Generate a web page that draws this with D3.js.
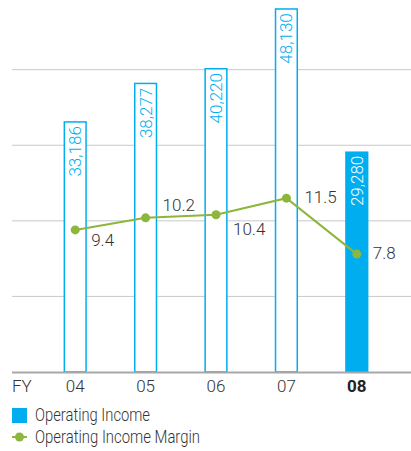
<!DOCTYPE html>
<html>
<head>
<meta charset="utf-8">
<script src="https://cdn.jsdelivr.net/npm/d3@7"></script>
<style>
html,body{margin:0;padding:0;background:#fff;}
svg{display:block;font-family:Roboto,"Open Sans",sans-serif;font-weight:300;}
</style>
</head>
<body>
<svg id="c" width="411" height="451"></svg>
<script>
const years = ["04","05","06","07","08"];
const income = [33186, 38277, 40220, 48130, 29280];
const incomeLabels = ["33,186","38,277","40,220","48,130","29,280"];
const margin = [9.4, 10.2, 10.4, 11.5, 7.8];
const marginLabels = ["9.4","10.2","10.4","11.5","7.8"];
const gridTicks = [10000, 20000, 30000, 40000];
const legendItems = ["Operating Income","Operating Income Margin"];

const BLUE = "#00aeef", GREEN = "#8cb63c", TEXT = "#333";
const svg = d3.select("#c");
const baseY = 372;
const FS = 17;

const x = d3.scaleBand().domain(years).range([40, 392]).paddingInner(0.67).paddingOuter(0.335);
const y = d3.scaleLinear().domain([0, 50000]).range([baseY, baseY - 377.9]);
const y2 = d3.scaleLinear().domain([0, 25]).range([baseY, baseY - 377.9]);

// grid
svg.append("g").selectAll("line").data(gridTicks).join("line")
  .attr("x1", 12).attr("x2", 411)
  .attr("y1", d => y(d)).attr("y2", d => y(d))
  .attr("stroke", "#c8c8c8").attr("stroke-width", 1);

// bars
const last = years.length - 1;
svg.append("g").selectAll("rect").data(income).join("rect")
  .attr("x", (d,i) => x(years[i]) + (i === last ? 0 : 0.75))
  .attr("width", (d,i) => x.bandwidth() - (i === last ? 0 : 1.5))
  .attr("y", d => y(d) + 0.75)
  .attr("height", d => baseY - y(d) - 0.75)
  .attr("fill", (d,i) => i === last ? BLUE : "#fff")
  .attr("stroke", (d,i) => i === last ? "none" : BLUE)
  .attr("stroke-width", 1.5);

// baseline axis
svg.append("line").attr("x1", 12).attr("x2", 411).attr("y1", baseY + 0.5).attr("y2", baseY + 0.5)
  .attr("stroke", "#a8a8a8").attr("stroke-width", 2);

// bar value labels
svg.append("g").selectAll("text").data(income).join("text")
  .attr("transform", (d,i) => `translate(${x(years[i]) + x.bandwidth()/2 + 6},${y(d) + 5}) rotate(-90)`)
  .attr("text-anchor", "end")
  .attr("font-size", FS)
  .attr("fill", (d,i) => i === last ? "#fff" : BLUE)
  .text((d,i) => incomeLabels[i]);

// margin line
const cx = i => x(years[i]) + x.bandwidth()/2;
svg.append("path").datum(margin)
  .attr("d", d3.line().x((d,i) => cx(i)).y(d => y2(d)))
  .attr("fill", "none").attr("stroke", GREEN).attr("stroke-width", 2);
svg.append("g").selectAll("circle").data(margin).join("circle")
  .attr("cx", (d,i) => cx(i)).attr("cy", d => y2(d)).attr("r", 4.5).attr("fill", GREEN);

const lblOff = [[16,16],[17,-7],[17,20],[18,5],[16,5]];
svg.append("g").selectAll("text").data(margin).join("text")
  .attr("x", (d,i) => cx(i) + lblOff[i][0])
  .attr("y", (d,i) => y2(d) + lblOff[i][1])
  .attr("font-size", FS).attr("fill", TEXT)
  .text((d,i) => marginLabels[i]);

// x axis labels
svg.append("text").attr("x", 12).attr("y", 392).attr("font-size", FS).attr("fill", TEXT).text("FY");
svg.append("g").selectAll("text").data(years).join("text")
  .attr("x", d => x(d) + x.bandwidth()/2).attr("y", 392)
  .attr("text-anchor", "middle").attr("font-size", FS)
  .attr("font-weight", (d,i) => i === last ? "bold" : 300)
  .attr("fill", (d,i) => i === last ? "#222" : TEXT)
  .text(d => d);

// legend
const lg = svg.append("g");
lg.append("rect").attr("x", 12).attr("y", 408).attr("width", 15).attr("height", 15).attr("fill", BLUE);
lg.append("line").attr("x1", 12).attr("x2", 27).attr("y1", 437).attr("y2", 437).attr("stroke", GREEN).attr("stroke-width", 2);
lg.append("circle").attr("cx", 19.5).attr("cy", 437).attr("r", 4.5).attr("fill", GREEN);
const legendLen = [115, 165];
lg.selectAll("text").data(legendItems).join("text")
  .attr("x", 35).attr("y", (d,i) => 421 + i*22)
  .attr("font-size", 18).attr("fill", TEXT)
  .attr("textLength", (d,i) => legendLen[i]).attr("lengthAdjust", "spacingAndGlyphs")
  .text(d => d);
</script>
</body>
</html>
